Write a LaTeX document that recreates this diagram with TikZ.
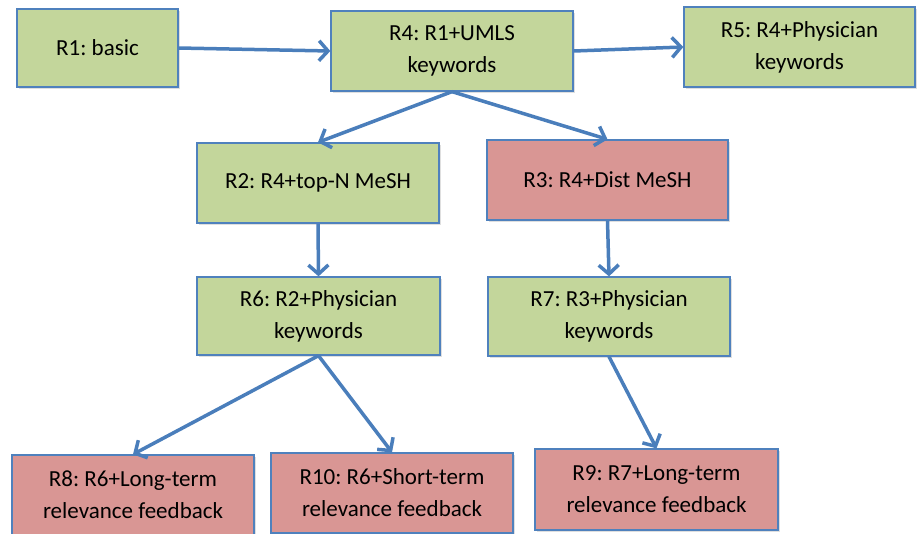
\documentclass[tikz,border=0pt]{standalone}
\usepackage{fontspec}
\setmainfont{Carlito}
\frenchspacing
\usepackage{tikz}
\usetikzlibrary{shapes,positioning,calc,arrows.meta,shadows}

\definecolor{runGreen}{HTML}{C3D69B}
\definecolor{runRed}{HTML}{D99694}
\definecolor{runBorder}{HTML}{4F81BD}
\definecolor{runArrow}{HTML}{4A7EBB}

\begin{document}
\begin{tikzpicture}[x=1pt,y=-1pt,
    runbox/.style={draw=runBorder, line width=1.3pt, align=center, inner sep=0pt,
        font=\fontsize{23}{32}\selectfont,
        drop shadow={opacity=0.25, shadow xshift=1.5pt, shadow yshift=-1.5pt}},
    good/.style={runbox, fill=runGreen},
    bad/.style={runbox, fill=runRed},
    flow/.style={draw=runArrow, line width=3.5pt, -{Straight Barb[length=9pt,width=20pt]}}]
    \clip (0,0) rectangle (918,533);

    % Top row
    \node [good, minimum width=161, minimum height=78] (r1) at (97.5,48) {R1: basic};
    \node [good, minimum width=242, minimum height=80] (r4) at (452,51) {R4: R1+UMLS\\keywords};
    \node [good, minimum width=231, minimum height=80] (r5) at (799.5,47) {R5: R4+Physician\\keywords};

    % MeSH expansion
    \node [good, minimum width=242, minimum height=80] (r2) at (318,183) {R2: R4+top-N MeSH};
    \node [bad, minimum width=241, minimum height=80] (r3) at (607.5,180) {R3: R4+Dist MeSH};

    % Physician keywords
    \node [good, minimum width=243, minimum height=78] (r6) at (318.5,316) {R6: R2+Physician\\keywords};
    \node [good, minimum width=242, minimum height=79] (r7) at (609,316.5) {R7: R3+Physician\\keywords};

    % Relevance feedback
    \node [bad, minimum width=242, minimum height=80] (r8) at (133,495) {R8: R6+Long-term\\relevance feedback};
    \node [bad, minimum width=242, minimum height=80] (r10) at (392,493) {R10: R6+Short-term\\relevance feedback};
    \node [bad, minimum width=243, minimum height=81] (r9) at (656.5,489.5) {R9: R7+Long-term\\relevance feedback};

    % Arrows
    \draw [flow] (r1.east) -- (r4.west);
    \draw [flow] (r4.east) -- (r5.west);
    \draw [flow] (r4.south) -- (r2.north);
    \draw [flow] (r4.south) -- (r3.north);
    \draw [flow] (r2.south) -- (r6.north);
    \draw [flow] (r3.south) -- (r7.north);
    \draw [flow] (r6.south) -- (r8.north);
    \draw [flow] (r6.south) -- (r10.north);
    \draw [flow] (r7.south) -- (r9.north);
\end{tikzpicture}
\end{document}
